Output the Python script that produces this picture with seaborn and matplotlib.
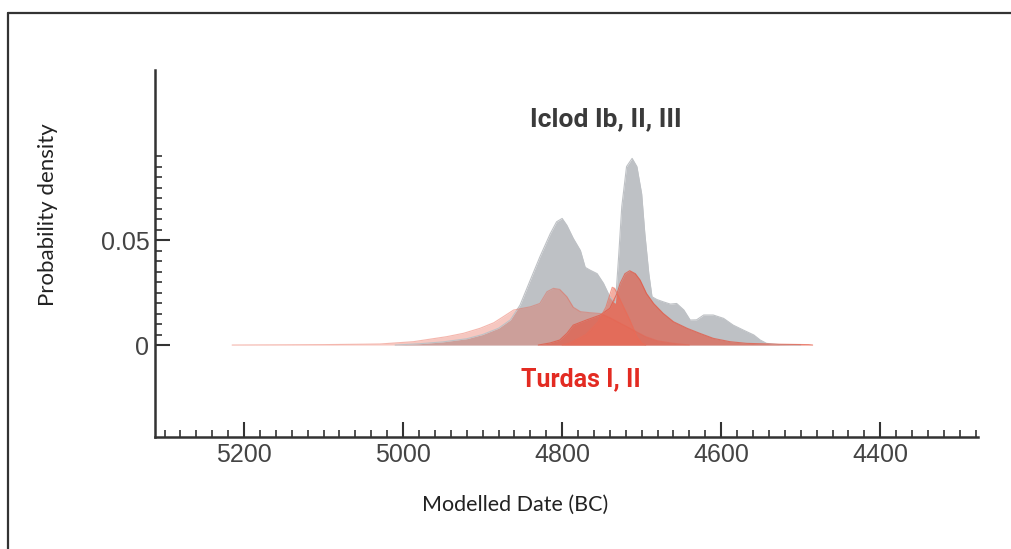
import matplotlib
matplotlib.use('Agg')
import matplotlib.pyplot as plt
from matplotlib.lines import Line2D
from matplotlib.ticker import FixedLocator, MultipleLocator
import pandas as pd
import seaborn as sns

# Iclod Ib, II, III summed probability
iclod_date = [5010, 4980, 4950, 4920, 4900, 4880, 4865, 4853, 4840, 4828, 4815, 4807,
              4800, 4794, 4786, 4777, 4771, 4765, 4756, 4748, 4740, 4733, 4729, 4725,
              4719, 4712, 4706, 4700, 4696, 4691, 4687, 4681, 4673, 4664, 4656, 4647,
              4639, 4631, 4622, 4610, 4597, 4585, 4572, 4559, 4551, 4543, 4526, 4500]
iclod_dens = [0, 0.0006, 0.0015, 0.003, 0.005, 0.008, 0.012, 0.019, 0.031, 0.042, 0.053, 0.0587,
              0.0603, 0.057, 0.0508, 0.045, 0.037, 0.0357, 0.034, 0.0294, 0.023, 0.020, 0.042, 0.066,
              0.085, 0.0889, 0.085, 0.072, 0.053, 0.034, 0.023, 0.0217, 0.0206, 0.0195, 0.0198, 0.0167,
              0.0119, 0.012, 0.0143, 0.0143, 0.0127, 0.0095, 0.0071, 0.0048, 0.0024, 0.0008, 0.0002, 0]

# Turdas I, II - three overlapping distributions
turdas_a_date = [5215, 5150, 5100, 5050, 5029, 4987, 4945, 4924, 4903, 4886, 4874, 4861,
                 4840, 4828, 4819, 4811, 4803, 4794, 4786, 4777, 4765, 4752, 4740, 4725,
                 4710, 4695, 4680, 4660, 4640]
turdas_a_dens = [0, 0.0001, 0.0002, 0.0004, 0.0005, 0.0016, 0.004, 0.0056, 0.008, 0.0106, 0.0135, 0.0167,
                 0.0182, 0.0198, 0.0254, 0.027, 0.0265, 0.023, 0.018, 0.0159, 0.0154, 0.015, 0.013, 0.010,
                 0.007, 0.004, 0.002, 0.0008, 0]

turdas_b_date = [4830, 4815, 4803, 4794, 4786, 4769, 4752, 4740, 4731, 4727, 4721, 4715,
                 4708, 4702, 4694, 4685, 4673, 4660, 4643, 4627, 4610, 4589, 4568, 4530,
                 4490, 4485]
turdas_b_dens = [0, 0.001, 0.0024, 0.0056, 0.0095, 0.012, 0.0143, 0.0175, 0.0246, 0.0294, 0.034, 0.0354,
                 0.034, 0.031, 0.0246, 0.0198, 0.0151, 0.0111, 0.008, 0.0056, 0.0032, 0.0016, 0.0008, 0.0004,
                 0.0002, 0]

turdas_c_date = [4800, 4790, 4770, 4755, 4745, 4740, 4737, 4734, 4725, 4715, 4706, 4700, 4695]
turdas_c_dens = [0, 0.001, 0.005, 0.011, 0.018, 0.024, 0.0275, 0.027, 0.020, 0.012, 0.004, 0.001, 0]

x_major = [5200, 5000, 4800, 4600, 4400]
y_major = [0, 0.05]
y_major_labels = ['0', '0.05']
y_minor = [0.005, 0.01, 0.015, 0.02, 0.025, 0.03, 0.035, 0.04, 0.045,
           0.055, 0.06, 0.065, 0.07, 0.075, 0.08, 0.085, 0.09]

series = [
    ('Iclod', iclod_date, iclod_dens, '#bec1c5', 1.0),
    ('Turdas A', turdas_a_date, turdas_a_dens, '#e8604c', 0.35),
    ('Turdas B', turdas_b_date, turdas_b_dens, '#e4533e', 0.62),
    ('Turdas C', turdas_c_date, turdas_c_dens, '#ec6a55', 0.55),
]

frames = []
for name, d, p, c, a in series:
    frames.append(pd.DataFrame({'date': d, 'density': p, 'group': name}))
df = pd.concat(frames, ignore_index=True)

sns.set_style('ticks')
plt.rcParams['font.family'] = ['Liberation Sans', 'DejaVu Sans']

fig = plt.figure(figsize=(10.11, 5.49), dpi=100)
ax = fig.add_axes([0.1533, 0.204, 0.8141, 0.6685])

for name, d, p, c, a in series:
    sub = df[df['group'] == name]
    ax.fill_between(sub['date'], 0, sub['density'], color=c, alpha=a, linewidth=0)
    sns.lineplot(data=sub, x='date', y='density', color=c, alpha=min(1, a + 0.1),
                 linewidth=0.8, ax=ax, sort=False, legend=False)

ax.set_xlim(5312, 4277)
ax.set_ylim(-0.0438, 0.131)
sns.despine(ax=ax)
for s in ['left', 'bottom']:
    ax.spines[s].set_color('#333333')
    ax.spines[s].set_linewidth(1.8)

ax.xaxis.set_major_locator(FixedLocator(x_major))
ax.xaxis.set_minor_locator(MultipleLocator(20))
ax.set_xticklabels([str(v) for v in x_major])
ax.yaxis.set_major_locator(FixedLocator(y_major))
ax.yaxis.set_minor_locator(FixedLocator(y_minor))
ax.set_yticklabels(y_major_labels)
ax.tick_params(which='major', direction='in', length=10.5, width=1.5, color='#333333',
               labelsize=18, labelcolor='#444444', pad=4)
ax.tick_params(which='minor', direction='in', length=5, width=1.2, color='#333333')
ax.set_xlabel('')
ax.set_ylabel('')

ax.text(4745, 0.1075, 'Iclod Ib, II, III', ha='center', va='center', fontsize=19,
        fontweight='bold', color='#3a3a3a', family=['Roboto', 'DejaVu Sans'])
ax.text(4777, -0.0165, 'Turdas I, II', ha='center', va='center', fontsize=18,
        fontweight='bold', color='#e32b22', family=['Roboto', 'DejaVu Sans'])

fig.text(515 / 1011, 1 - 505 / 549, 'Modelled Date (BC)', ha='center', va='center',
         fontsize=15.5, color='#222222', family=['Lato', 'DejaVu Sans'])
fig.text(48 / 1011, 1 - 215 / 549, 'Probability density', ha='center', va='center',
         rotation=90, fontsize=16, color='#222222', family=['Lato', 'DejaVu Sans'])

# page frame (top and left edges only)
fig.add_artist(Line2D([7.5 / 1011, 1], [1 - 12.5 / 549, 1 - 12.5 / 549],
                      transform=fig.transFigure, color='#333333', linewidth=1.6))
fig.add_artist(Line2D([7.5 / 1011, 7.5 / 1011], [0, 1 - 12.5 / 549],
                      transform=fig.transFigure, color='#333333', linewidth=1.6))

fig.savefig('out.png', dpi=100, facecolor='white')
plt.close(fig)
